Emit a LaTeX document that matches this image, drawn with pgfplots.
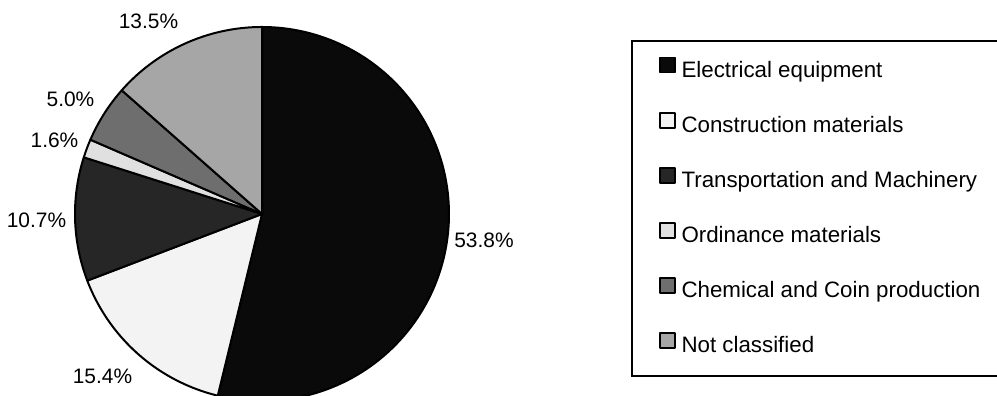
\documentclass[border=0pt]{standalone}
\usepackage{pgfplots}
\pgfplotsset{compat=1.18}
\usepackage{fontspec}
\setmainfont{Liberation Sans}
\definecolor{cElec}{HTML}{0A0A0A}
\definecolor{cCons}{HTML}{F3F3F3}
\definecolor{cTrans}{HTML}{262626}
\definecolor{cOrd}{HTML}{E0E0E0}
\definecolor{cChem}{HTML}{6E6E6E}
\definecolor{cNot}{HTML}{A6A6A6}
% one wedge: start and end of the slice as cumulative percentages
\newcommand{\slice}[3]{%
  \addplot[fill=#3, draw=black, line width=1bp, line join=round,
    domain=#1:#2, samples=120, variable=\t]
    ({262+187*cos(90-3.6*\t)}, {-214+187*sin(90-3.6*\t)}) -- (axis cs:262,-214) -- cycle;
}
\begin{document}
\begin{tikzpicture}
\begin{axis}[
  x=0.5bp, y=0.5bp,
  xmin=0, xmax=997, ymin=-396, ymax=0,
  hide axis, clip=true,
  legend cell align=left,
  legend image code/.code={\draw[#1, draw=black, line width=0.75bp] (0bp,0bp) rectangle (7.5bp,7.5bp);},
  legend style={at={(axis description cs:0.6329,0.899)}, anchor=north west,
    draw=black, line width=1bp, fill=white,
    font=\fontsize{11.2}{13}\selectfont,
    inner xsep=13.5bp, inner ysep=8bp,
    row sep=14.9bp, column sep=3bp,
    nodes={inner sep=0pt, text height=7bp, text depth=2.5bp}},
]
\slice{0}{53.8}{cElec}
\addlegendentry{Electrical equipment}
\slice{53.8}{69.2}{cCons}
\addlegendentry{Construction materials}
\slice{69.2}{79.9}{cTrans}
\addlegendentry{Transportation and Machinery}
\slice{79.9}{81.5}{cOrd}
\addlegendentry{Ordinance materials}
\slice{81.5}{86.5}{cChem}
\addlegendentry{Chemical and Coin production}
\slice{86.5}{100}{cNot}
\addlegendentry[text height=8.5bp, text depth=4bp]{Not classified}
\begin{scope}[every node/.style={font=\fontsize{10.5}{12}\selectfont, inner sep=0pt}]
\node at (axis cs:148.5,-21) {13.5\%};
\node at (axis cs:70.5,-99) {5.0\%};
\node at (axis cs:54.5,-140) {1.6\%};
\node at (axis cs:36.5,-220) {10.7\%};
\node at (axis cs:484,-240) {53.8\%};
\node at (axis cs:102.5,-376) {15.4\%};
\end{scope}
\end{axis}
\pgfresetboundingbox
\path[use as bounding box] (current axis.south west) rectangle (current axis.north east);
\end{tikzpicture}
\end{document}
